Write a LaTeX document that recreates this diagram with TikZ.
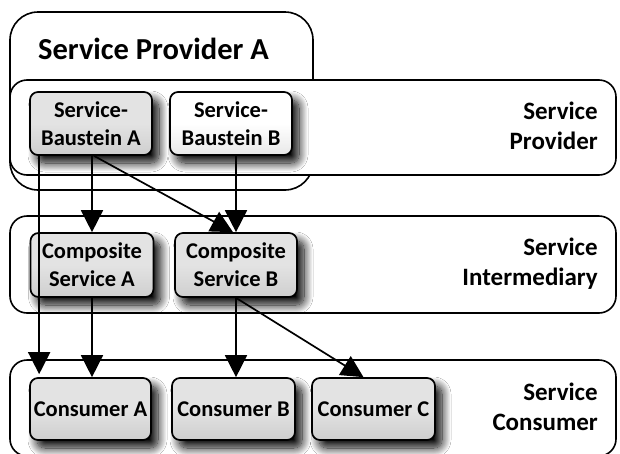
\documentclass[tikz,border=0pt]{standalone}
\usepackage{fontspec}
\setmainfont{Carlito}
\usetikzlibrary{arrows.meta,shadows.blur,calc}
\tikzset{
  band/.style={draw=black, line width=1.6pt, fill=white, rounded corners=17pt},
  outerbox/.style={draw=black, line width=1.6pt, fill=white, rounded corners=28pt},
  svc/.style={draw=black, line width=1.7pt, rounded corners=8pt, align=center,
     font=\fontsize{22.5}{28}\selectfont\bfseries, inner sep=0pt,
     top color=gray!22, bottom color=gray!38, middle color=gray!22,
     blur shadow={shadow xshift=7pt, shadow yshift=-8pt, shadow blur radius=9pt, shadow opacity=100, shadow blur steps=16}},
  svclight/.style={svc, top color=white, bottom color=gray!18, middle color=white},
  bandlabel/.style={align=right, anchor=east, font=\fontsize{25}{30}\selectfont\bfseries, inner sep=0pt},
  arr/.style={line width=1.7pt, -{Triangle[width=22pt,length=22pt]}}
}
\begin{document}
\begin{tikzpicture}[x=1pt,y=-1pt]
\useasboundingbox (0,0) rectangle (620,453);
% Service Provider A container
\draw[outerbox] (10,12) rectangle (313,190);
\node[anchor=west, inner sep=0pt, font=\fontsize{30.5}{32}\selectfont\bfseries] (spa) at (38,49) {Service Provider A};
% bands
\draw[band] (10,80) rectangle (616,175);
\draw[band] (10,216) rectangle (616,313);
\draw[band] (10,360) rectangle (616,456);
% band labels
\node[bandlabel] (lp) at (598,126) {Service\\Provider};
\node[bandlabel] (li) at (598,264) {Service\\Intermediary};
\node[bandlabel] (lc) at (598,407) {Service\\Consumer};
% services
\node[svc, minimum width=122pt, minimum height=63pt] (bA) at (91,123.5) {Service-\\Baustein A};
\node[svclight, minimum width=122pt, minimum height=63pt] (bB) at (231,123.5) {Service-\\Baustein B};
\node[svc, minimum width=123pt, minimum height=64pt] (cA) at (92,265) {Composite\\Service A};
\node[svc, minimum width=122pt, minimum height=64pt] (cB) at (236,265) {Composite\\Service B};
\node[svc, minimum width=121pt, minimum height=62pt] (kA) at (90.5,409) {Consumer A};
\node[svc, minimum width=123pt, minimum height=62pt] (kB) at (233.5,409) {Consumer B};
\node[svc, minimum width=123pt, minimum height=62pt] (kC) at (373.5,409) {Consumer C};
% connectors
\draw[arr] ([xshift=10pt]bA.south west) -- ([xshift=10pt,yshift=3pt]kA.north west);
\draw[arr] (bA.south -| cA.north) -- (cA.north);
\draw[arr] ([xshift=3pt]bA.south) -- ([xshift=-3pt]cB.north);
\draw[arr] (bB.south -| cB.north) -- (cB.north);
\draw[arr] (cA.south) -- (cA.south |- kA.north);
\draw[arr] (cB.south) -- (cB.south |- kB.north);
\draw[arr] (cB.south) -- ([xshift=-10pt]kC.north);
\end{tikzpicture}
\end{document}
